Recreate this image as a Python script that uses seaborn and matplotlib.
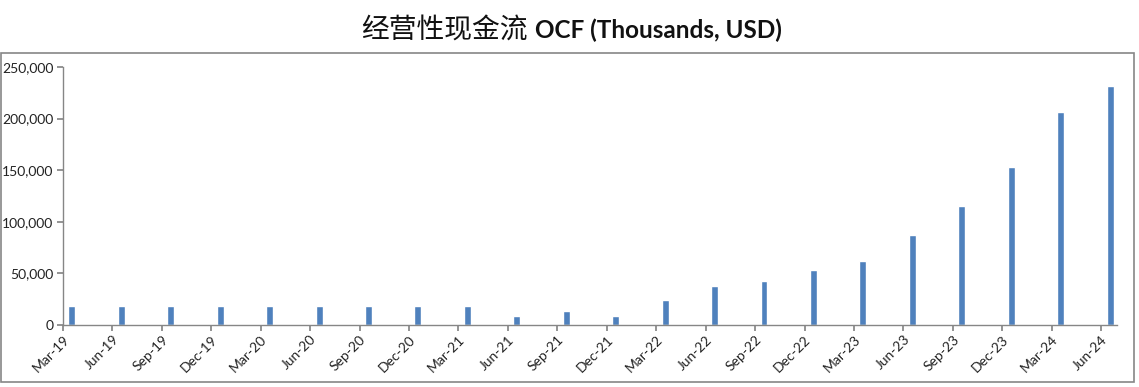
import seaborn as sns
import matplotlib.pyplot as plt
import numpy as np
from matplotlib.patches import Rectangle
from matplotlib.ticker import FuncFormatter

sns.set_theme(style="white")
plt.rcParams['font.family'] = ['Lato', 'Noto Sans CJK SC', 'DejaVu Sans']

# quarterly operating cash flow, thousands USD
quarters = ['Mar-19', 'Jun-19', 'Sep-19', 'Dec-19', 'Mar-20', 'Jun-20', 'Sep-20',
            'Dec-20', 'Mar-21', 'Jun-21', 'Sep-21', 'Dec-21', 'Mar-22', 'Jun-22',
            'Sep-22', 'Dec-22', 'Mar-23', 'Jun-23', 'Sep-23', 'Dec-23', 'Mar-24',
            'Jun-24']
ocf = [18700, 18700, 18700, 18700, 18700, 18700, 18700,
       18700, 18700, 9000, 13500, 9000, 24200, 37800,
       42600, 53300, 62000, 87200, 115300, 153100, 206400,
       231600]
yticks = [0, 50000, 100000, 150000, 200000, 250000]

fig = plt.figure(figsize=(11.39, 3.87), dpi=100)
ax = fig.add_axes([63 / 1139, 1 - 325 / 387, (1117 - 63) / 1139, (325 - 67) / 387])

sns.barplot(x=quarters, y=ocf, color='#4F81BD', saturation=1, width=0.14, ax=ax)

off = 0.18
ax.set_xticks(np.arange(len(quarters)) - off)
ax.set_xticklabels(quarters, rotation=45, ha='right', rotation_mode='anchor', fontsize=10, color='#222222')
ax.set_xlim(-off, 21.32 - off)
ax.set_ylim(0, 250000)
ax.set_yticks(yticks)
ax.yaxis.set_major_formatter(FuncFormatter(lambda v, p: f'{int(v):,}'))
ax.tick_params(axis='y', labelsize=10, labelcolor='#222222', length=4, color='#868686', direction='out', left=True, pad=3)
ax.tick_params(axis='x', length=4, color='#868686', direction='out', bottom=True, pad=2)

for s in ['top', 'right']:
    ax.spines[s].set_visible(False)
for s in ['left', 'bottom']:
    ax.spines[s].set_color('#868686')
    ax.spines[s].set_linewidth(1)
ax.set_xlabel('')
ax.set_ylabel('')
ax.grid(False)

# chart border
fig.patches.append(Rectangle((0.5 / 1139, 1 - 381.5 / 387), 1133 / 1139, (381.5 - 52.5) / 387,
                             transform=fig.transFigure, fill=False, edgecolor='#868686', linewidth=1.2))

fig.text(528 / 1139, 1 - 30 / 387, '经营性现金流', ha='right', va='center', fontsize=20,
         family=['Noto Sans CJK SC'], color='#111111')
fig.text(535 / 1139, 1 - 30 / 387, 'OCF (Thousands, USD)', ha='left', va='center', fontsize=17.5,
         fontweight='bold', family=['Lato', 'DejaVu Sans'], color='#111111')

fig.savefig('out.png', dpi=100)
